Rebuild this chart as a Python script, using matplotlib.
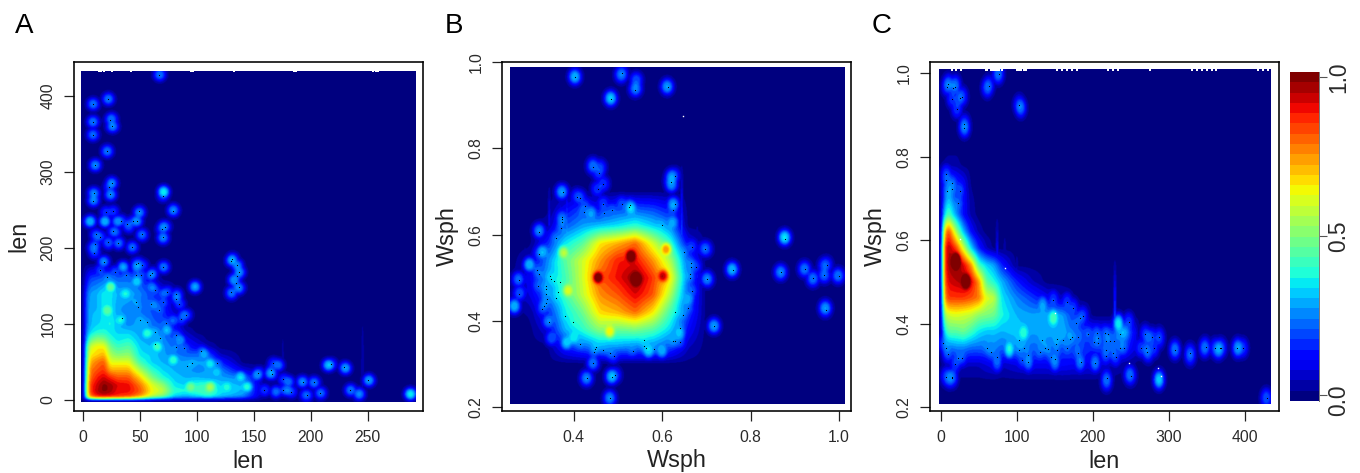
import numpy as np
import matplotlib
matplotlib.use("Agg")
import matplotlib.pyplot as plt
from matplotlib.transforms import ScaledTranslation

plt.rcParams["font.family"] = ["Liberation Sans", "DejaVu Sans"]

W, H = 1360, 473

# ---- panel A (len vs len)
a_xknots = [0, 3, 6, 12, 18, 24, 30, 40, 50, 60, 70, 80, 90, 100, 110, 120, 140, 160]
a_yknots = [0, 2, 5, 12, 20, 30, 40, 50, 60, 70, 80, 90, 100, 120, 140, 160, 180]
a_levels = [
    [.04, .06, .08, .1, .1, .1, .1, .1, .1, .08, .06, .05, .04, .04, .04, .03, .02, 0],
    [.06, .3, .55, .62, .62, .62, .62, .6, .5, .35, .28, .2, .18, .2, .2, .18, .14, 0],
    [.08, .5, .8, .9, .92, .9, .88, .85, .75, .6, .5, .33, .3, .34, .4, .33, .26, 0],
    [.08, .55, .85, .95, 1.0, .97, .9, .9, .82, .65, .58, .4, .38, .42, .45, .35, .3, 0],
    [.08, .55, .85, .93, 1.0, .97, .92, .9, .78, .62, .52, .35, .33, .4, .42, .33, .3, 0],
    [.08, .5, .8, .88, .93, .87, .82, .82, .68, .5, .38, .32, .3, .3, .28, .28, .25, 0],
    [.08, .48, .78, .82, .86, .72, .72, .72, .55, .4, .33, .3, .28, .25, .28, .25, .08, 0],
    [.08, .45, .72, .78, .82, .62, .62, .62, .42, .33, .3, .28, .28, .28, .28, .15, 0, 0],
    [.07, .42, .65, .68, .72, .55, .5, .52, .35, .33, .28, .25, .22, .22, .2, .05, 0, 0],
    [.07, .4, .6, .65, .65, .48, .42, .45, .33, .3, .28, .22, .15, .1, .05, 0, 0, 0],
    [.06, .3, .45, .52, .5, .4, .35, .38, .3, .28, .25, .2, .1, .05, 0, 0, 0, 0],
    [.06, .25, .33, .38, .38, .35, .33, .32, .28, .3, .22, .15, .05, 0, 0, 0, 0, 0],
    [.06, .22, .3, .33, .35, .38, .3, .25, .3, .22, .2, .12, 0, 0, 0, 0, 0, 0],
    [.06, .22, .3, .3, .35, .35, .28, .25, .22, .2, .15, .05, 0, 0, 0, 0, 0, 0],
    [.05, .2, .28, .3, .36, .35, .3, .3, .25, .18, .12, .03, 0, 0, 0, 0, 0, 0],
    [.02, .1, .18, .2, .22, .25, .22, .22, .18, .08, 0, 0, 0, 0, 0, 0, 0, 0],
    [0, 0, 0, 0, 0, 0, 0, 0, 0, 0, 0, 0, 0, 0, 0, 0, 0, 0],
]
a_blob_x = [8.5, 22, 8.5, 25, 26, 8.5, 21, 10.5, 67, 25, 24, 9, 9, 70.5, 79, 6, 19, 30, 40, 49, 47, 51.5,
            28, 12, 22, 31, 43, 9, 70.5, 70, 18, 70.5, 130.5, 135, 137, 132, 136, 130, 98,
            171, 215, 230, 250.5, 234.5, 242, 287, 192, 202, 195, 208, 180, 169, 179, 152.5, 164,
            24, 35, 47, 47, 37, 21, 32.5, 60, 60, 70.5, 82, 63, 88, 79, 56, 73.5, 85, 65, 79, 106, 111.5, 117,
            138, 144, 111.5, 94, 126]
a_blob_y = [389.5, 396, 366, 370, 360, 349, 327, 309, 428, 285, 270, 272, 263, 274, 250, 235, 235, 235, 228, 246, 235, 217,
            221, 215, 206, 206, 201, 200, 228, 213, 182, 175, 184, 177, 168, 158, 147, 140, 149,
            46, 46, 42, 26, 13, 8, 8, 24, 23, 6.5, 9, 24, 11, 13, 33, 35,
            149, 175, 175, 156, 140, 118, 105, 149, 165, 140, 136, 125, 112, 105, 88, 92, 79, 70, 53, 61, 48, 37,
            31, 17.5, 17.5, 17.5, 17.5]
a_blob_v = [.2, .2, .2, .2, .22, .18, .2, .22, .2, .22, .22, .22, .22, .35, .22, .3, .3, .25, .18, .22, .22, .18,
            .2, .18, .16, .18, .18, .22, .22, .22, .22, .2, .25, .22, .22, .25, .22, .2, .28,
            .22, .3, .25, .25, .2, .25, .35, .22, .2, .18, .18, .22, .22, .22, .25, .25,
            .42, .28, .25, .3, .3, .38, .3, .22, .2, .2, .2, .2, .2, .2, .33, .28, .25, .35, .35, .25, .3, .25,
            .3, .35, .45, .4, .28]
a_streak_x = [245, 175]
a_streak_lo = [0, 20]
a_streak_hi = [125, 110]
a_streak_v = [.06, .04]
a_dots_x = [9, 22, 8.5, 24, 25, 8.5, 21, 10.5, 67, 25, 23, 24, 10, 9, 70, 79, 20, 26, 49.5, 47, 44, 33, 39, 26, 51.5,
            69, 72, 70, 11, 15, 10.5, 22, 31, 43, 10, 18, 15, 21, 28, 38, 46.5, 48.5, 52, 46.5, 51, 59, 61, 70.5,
            131, 130, 135, 137, 135, 134, 137, 130, 63, 74, 82, 82, 84.5, 70.5, 46.5, 60, 48.5, 67, 90.5, 86, 34.5,
            50, 56.5, 72.5, 63, 82, 67.5, 63, 82, 89, 104, 95.5, 91.5, 118, 154, 167, 165, 166, 176, 193, 203,
            217.5, 229.5, 250.5, 234.5, 159, 176, 182.5, 196.5, 208.5]
a_dots_y = [389, 396, 366, 369, 360, 349, 328, 309, 428, 286, 280, 271, 272, 262, 269, 249, 247, 248, 248, 236, 235, 236, 232, 222, 218,
            225, 228, 215, 218, 215, 205, 208, 207, 201, 194, 182, 171, 162, 169, 164, 179, 180, 177, 165, 165, 164, 167, 175,
            186, 183, 177, 169, 163, 153.5, 148, 142.5, 145, 142.5, 139.5, 132.5, 126, 128.5, 128.5, 126, 122, 119, 112, 106, 107.5,
            105, 102, 101, 90, 85.5, 81, 73, 70, 69, 65, 48, 45, 48, 36, 48, 40, 34, 27, 24, 23,
            47, 43, 26, 13, 13, 13, 11, 6.5, 9.5]
a_gaps = [14, 16, 18, 25, 42, 95, 97, 132.5, 185, 187, 255, 257, 259]

# ---- panel B (Wsph vs Wsph)
b_xknots = [.26, .30, .34, .38, .42, .46, .50, .54, .58, .62, .66, .70, .74]
b_yknots = [.26, .30, .34, .38, .42, .46, .50, .54, .58, .62, .66, .70, .74, .78]
b_levels = [
    [0, 0, 0, 0, 0, 0, 0, 0, 0, 0, 0, 0, 0],
    [0, 0, 0, 0, 0, 0, 0, 0, 0, 0, 0, 0, 0],
    [0, 0, 0, .15, .22, .28, .28, .25, .25, .2, .05, 0, 0],
    [0, 0, .08, .3, .4, .52, .48, .5, .45, .33, .12, 0, 0],
    [0, .02, .15, .35, .48, .68, .72, .8, .66, .42, .18, 0, 0],
    [0, .08, .22, .42, .58, .76, .82, .92, .82, .55, .2, 0, 0],
    [0, .1, .28, .42, .6, .82, .9, 1.0, .85, .65, .22, 0, 0],
    [0, .05, .25, .45, .6, .75, .88, .9, .75, .55, .2, 0, 0],
    [0, 0, .15, .35, .45, .66, .72, .8, .6, .4, .1, 0, 0],
    [0, 0, .03, .2, .28, .32, .35, .4, .33, .25, 0, 0, 0],
    [0, 0, 0, .1, .18, .1, .18, .2, .18, .12, 0, 0, 0],
    [0, 0, 0, 0, 0, 0, 0, 0, 0, 0, 0, 0, 0],
    [0, 0, 0, 0, 0, 0, 0, 0, 0, 0, 0, 0, 0],
    [0, 0, 0, 0, 0, 0, 0, 0, 0, 0, 0, 0, 0],
]
b_blob_x = [.403, .508, .542, .541, .484, .612, .444, .46, .622, .622, .373, .322, .70, .275, .279, .266, .343, .384,
            .429, .444, .486, .482, .703, .718, .759, .878, .869, .923, .942, .968, .968, .999, .97, .625, .625,
            .542, .455, .53, .377, .387, .482, .61, .603, .30, .33, .35, .40, .44, .53, .57, .60, .64, .66]
b_blob_y = [.965, .969, .957, .938, .915, .942, .76, .755, .733, .715, .698, .609, .566, .496, .465, .434, .399, .349,
            .267, .302, .271, .221, .496, .388, .519, .593, .512, .519, .496, .527, .505, .504, .43, .67, .628,
            .496, .50, .55, .558, .47, .374, .566, .504, .53, .56, .36, .36, .65, .66, .33, .33, .37, .45]
b_blob_v = [.28, .22, .2, .22, .3, .25, .2, .18, .25, .25, .25, .22, .18, .18, .15, .3, .2, .3,
            .22, .2, .28, .22, .22, .25, .28, .33, .22, .2, .2, .18, .18, .2, .25, .25, .25,
            1.0, .9, .9, .5, .52, .55, .66, .78, .3, .28, .2, .3, .25, .3, .3, .28, .28, .25]
b_streak_x = [.545, .385, .37, .645, .68, .29, .345]
b_streak_lo = [.50, .60, .55, .60, .50, .50, .62]
b_streak_hi = [.685, .72, .72, .77, .63, .58, .72]
b_streak_v = [.72, .3, .25, .2, .15, .1, .12]
b_dots_x = [.403, .509, .539, .484, .612, .444, .457, .467, .454, .628, .619, .375, .408, .415, .426, .422, .467, .469, .486, .509,
            .524, .528, .628, .625, .373, .374, .374, .371, .322, .359, .599, .322, .667, .65, .696, .878, .316, .322, .345, .348,
            .356, .368, .275, .32, .337, .337, .365, .337, .277, .359, .34, .336, .333, .329, .379, .343, .399, .413, .451, .448,
            .446, .466, .481, .49, .533, .558, .558, .564, .582, .625, .629, .641, .641, .629, .648, .659, .668, .662, .662, .664,
            .664, .676, .701, .718, .759, .869, .923, .942, .967, .972, .999, .97, .444, .43, .487, .494, .482]
b_dots_y = [.965, .974, .936, .915, .942, .756, .742, .717, .705, .736, .723, .699, .688, .685, .667, .653, .672, .651, .657, .672,
            .665, .669, .67, .657, .641, .636, .629, .616, .607, .593, .623, .556, .572, .56, .567, .591, .519, .509, .505, .498,
            .492, .49, .496, .481, .482, .473, .467, .463, .463, .453, .451, .442, .435, .428, .412, .398, .398, .346, .34, .335,
            .328, .333, .326, .319, .331, .357, .341, .337, .335, .353, .353, .351, .384, .421, .415, .43, .469, .509, .5, .535,
            .526, .526, .498, .388, .518, .513, .521, .5, .507, .53, .505, .426, .302, .267, .27, .274, .221]
b_white_x = [.646]
b_white_y = [.874]

# ---- panel C (Wsph vs len)
c_xknots = [0, 5, 10, 20, 30, 40, 50, 60, 70, 80, 100, 120, 140, 160, 180, 200, 220, 240, 260]
c_yknots = [.26, .30, .34, .38, .42, .46, .50, .54, .58, .62, .66, .70, .74, .78, .82]
c_levels = [
    [0, 0, 0, 0, 0, 0, 0, 0, 0, 0, 0, 0, 0, 0, 0, 0, 0, 0, 0],
    [0, .03, .05, .05, .05, .05, .05, .08, .1, .05, .08, .1, .1, .12, .1, .1, .05, .02, 0],
    [.05, .18, .22, .25, .25, .22, .22, .22, .25, .22, .25, .22, .22, .18, .2, .14, .18, .18, .05],
    [.08, .35, .45, .45, .48, .42, .35, .32, .32, .3, .33, .28, .3, .3, .2, .15, .12, .3, .05],
    [.1, .55, .6, .62, .6, .58, .52, .5, .48, .38, .3, .28, .3, .28, .12, 0, 0, 0, 0],
    [.12, .75, .85, .85, .85, .82, .78, .62, .58, .35, .25, .18, .1, .05, 0, 0, 0, 0, 0],
    [.12, .82, .92, .95, .97, .92, .75, .45, .38, .3, .15, .05, 0, 0, 0, 0, 0, 0, 0],
    [.12, .85, .97, 1.0, .92, .75, .42, .33, .28, .15, 0, 0, 0, 0, 0, 0, 0, 0, 0],
    [.12, .85, .97, .85, .6, .33, .15, .05, 0, 0, 0, 0, 0, 0, 0, 0, 0, 0, 0],
    [.1, .7, .85, .55, .3, .12, .03, 0, 0, 0, 0, 0, 0, 0, 0, 0, 0, 0, 0],
    [.08, .35, .45, .28, .12, .03, 0, 0, 0, 0, 0, 0, 0, 0, 0, 0, 0, 0, 0],
    [.05, .22, .32, .18, .12, .02, 0, 0, 0, 0, 0, 0, 0, 0, 0, 0, 0, 0, 0],
    [.03, .12, .22, .15, .1, 0, 0, 0, 0, 0, 0, 0, 0, 0, 0, 0, 0, 0, 0],
    [0, .02, .03, .03, 0, 0, 0, 0, 0, 0, 0, 0, 0, 0, 0, 0, 0, 0, 0],
    [0, 0, 0, 0, 0, 0, 0, 0, 0, 0, 0, 0, 0, 0, 0, 0, 0, 0, 0],
]
c_blob_x = [10, 19, 23, 61, 75, 105, 31, 11, 218, 248, 287, 428, 233.5, 273, 273, 308, 328, 347, 365, 391, 242,
            90, 148, 183, 203, 115, 74, 150, 134, 109, 287, 20, 33]
c_blob_y = [.972, .972, .936, .964, .996, .916, .868, .269, .261, .277, .265, .221, .40, .365, .329, .337, .322, .341, .337, .341, .377,
            .337, .413, .305, .305, .305, .305, .305, .445, .377, .36, .55, .50]
c_blob_v = [.18, .18, .15, .2, .2, .22, .2, .22, .2, .2, .32, .15, .35, .2, .18, .2, .18, .2, .25, .25, .2,
            .35, .38, .2, .2, .2, .2, .22, .25, .33, .12, 1.0, .92]
c_streak_x = [229, 74, 84, 100]
c_streak_lo = [.40, .50, .50, .48]
c_streak_hi = [.56, .66, .62, .57]
c_streak_v = [.22, .2, .1, .12]
c_dots_x = [10, 8, 19, 16, 15, 25, 28, 21, 31, 31, 63, 76, 103, 7, 7, 8, 15, 15, 25, 23, 3.5, 7, 9, 23, 28, 19, 7, 15, 15,
            61, 66, 74, 103, 110, 103, 115, 107, 115, 133, 137, 141, 130, 145, 150, 153, 148, 166, 174, 187, 183, 178,
            153, 161, 151, 172, 170, 181, 166, 180, 184, 194, 205, 207, 201, 207, 216, 220, 217, 222, 228, 217, 217, 226, 230, 203,
            235, 236, 241, 247, 218, 250, 269, 278, 287, 263, 270, 280, 271, 308, 328, 348, 361, 367, 369, 390, 397, 428.5]
c_dots_y = [.974, .967, .968, .964, .938, .942, .943, .914, .878, .868, .97, .998, .923, .758, .744, .718, .736, .723, .718, .688, .353, .341, .327, .317, .318, .302, .273, .273, .269,
            .341, .331, .319, .36, .342, .336, .325, .312, .309, .36, .341, .338, .331, .321, .315, .336, .457, .451, .437, .418, .413, .401,
            .362, .36, .352, .367, .364, .369, .342, .329, .309, .374, .377, .365, .355, .353, .377, .374, .358, .359, .359, .337, .322, .329, .319, .305,
            .374, .342, .342, .403, .269, .275, .374, .367, .367, .341, .341, .341, .333, .337, .329, .343, .341, .341, .341, .341, .341, .221]
c_white_x = [25.4, 84, 150, 247, 285, 290]
c_white_y = [.604, .533, .425, .305, .293, .275]
c_gaps = [14.5, 20, 26.5, 59, 61, 66, 69, 71, 74, 77, 80, 100, 103, 106, 109, 112, 153, 159.5, 166, 173, 179,
          220, 227, 233.5, 275, 330, 336.5, 343, 349.5, 356, 361.5, 416.5, 423, 429.5]

cbar_ticks = [0.0, 0.5, 1.0]
n_bands = 32
vmin, vmax = -0.019, 1.015
cmap = plt.get_cmap("jet", n_bands)
dot_level = 0.17


def density(xlim, ylim, xknots, yknots, levels, bx, by, bv, sx, sy, sk=None, p=3.0, smooth=1.5):
    # picture grid, 2 cells per screen pixel
    xs = np.linspace(xlim[0], xlim[1], 670)
    ys = np.linspace(ylim[0], ylim[1], 670)
    lev = np.array(levels, dtype=float)
    rows = np.array([np.interp(xs, xknots, r, left=0, right=0) for r in lev])
    core = np.array([np.interp(ys, yknots, rows[:, j], left=0, right=0) for j in range(len(xs))]).T
    # light blur so the reading grid does not show
    n = int(smooth * 8)
    kern = np.exp(-0.5 * (np.arange(-n, n + 1) / (smooth * 2)) ** 2)
    kern /= kern.sum()
    core = np.apply_along_axis(lambda v: np.convolve(v, kern, mode="same"), 0, core)
    core = np.apply_along_axis(lambda v: np.convolve(v, kern, mode="same"), 1, core)
    total = core ** p
    X, Y = np.meshgrid(xs, ys)
    for x0, y0, v in zip(bx, by, bv):
        # flat-topped bump, the key of the original smoothing looks like this
        g = np.exp(-0.5 * (((X - x0) / sx) ** 2 + ((Y - y0) / sy) ** 2) ** 1.4)
        total = total + (v * g) ** p
    field = total ** (1 / p)
    if sk is not None:
        px = (xlim[1] - xlim[0]) / 335
        for x0, lo, hi, v in zip(*sk):
            ramp = np.clip((hi - Y) / (hi - lo), 0, 1) * (Y >= lo)
            field = np.maximum(field, v * ramp * np.exp(-0.5 * ((X - x0) / (1.0 * px)) ** 2))
    return field


def panel(rect, letter, letter_x, ext, lims, xticks, yticks, xlab, ylab, field, dx, dy, gaps=None, white=None, xfmt="%g", yfmt="%g"):
    l, r, t, b = rect
    ax = fig.add_axes([l / W, 1 - b / H, (r - l) / W, (b - t) / H])
    ax.imshow(field, origin="lower", extent=ext, aspect="auto", cmap=cmap, vmin=vmin, vmax=vmax,
              interpolation="bilinear", zorder=1)
    ax.plot(dx, dy, linestyle="none", marker="s", ms=0.75, mew=0, color="black", zorder=3)
    if white is not None:
        ax.plot(white[0], white[1], linestyle="none", marker="s", ms=1.0, mew=0, color="white", zorder=3)
    if gaps is not None:
        ax.plot(gaps, [ext[3]] * len(gaps), linestyle="none", marker="s", ms=1.6, mew=0, color="white", zorder=3)
    ax.set_xlim(lims[0], lims[1])
    ax.set_ylim(lims[2], lims[3])
    ax.set_xticks(xticks, [xfmt % v for v in xticks])
    ax.set_yticks(yticks, [yfmt % v for v in yticks])
    ax.tick_params(axis="both", length=7.2, width=0.9, color="#222222", labelcolor="#2a2a2a", labelsize=11.3)
    ax.tick_params(axis="x", pad=6.5)
    ax.tick_params(axis="y", pad=6)
    for lab in ax.get_yticklabels():
        lab.set_rotation(90)
        lab.set_va("center")
    for s in ax.spines.values():
        s.set_linewidth(1.15)
    ax.set_xlabel(xlab, fontsize=16.8, color="#222222", va="center")
    ax.set_ylabel(ylab, fontsize=16.8, color="#222222", va="center")
    ax.xaxis.set_label_coords(0.5, -(461 - b) / (b - t))
    ax.yaxis.set_label_coords(-55 / (r - l), 0.5)
    fig.text(letter_x / W, 1 - 26 / H, letter, fontsize=20, color="black", ha="center", va="center")
    return ax


fig = plt.figure(figsize=(W / 100, H / 100), dpi=100)

ext_a = [-1.8, 291.6, -2.2, 432.5]
ext_b = [0.2566, 1.0141, 0.2077, 0.9868]
ext_c = [-2.2, 434.1, 0.2072, 1.0082]

field_a = density(ext_a[:2], ext_a[2:], a_xknots, a_yknots, a_levels,
                  a_blob_x + a_dots_x, a_blob_y + a_dots_y, a_blob_v + [dot_level] * len(a_dots_x), 4.2, 6.5,
                  (a_streak_x, a_streak_lo, a_streak_hi, a_streak_v))
field_b = density(ext_b[:2], ext_b[2:], b_xknots, b_yknots, b_levels,
                  b_blob_x + b_dots_x, b_blob_y + b_dots_y, b_blob_v + [dot_level] * len(b_dots_x), 0.0115, 0.0145,
                  (b_streak_x, b_streak_lo, b_streak_hi, b_streak_v))
field_c = density(ext_c[:2], ext_c[2:], c_xknots, c_yknots, c_levels,
                  c_blob_x + c_dots_x, c_blob_y + c_dots_y, c_blob_v + [dot_level] * len(c_dots_x), 5.8, 0.018,
                  (c_streak_x, c_streak_lo, c_streak_hi, c_streak_v))

panel((73.7, 422.7, 62, 411), "A", 24, ext_a, (-8.2, 298.3, -14.5, 444.7),
      [0, 50, 100, 150, 200, 250], [0, 100, 200, 300, 400], "len", "len",
      field_a, a_dots_x, a_dots_y, gaps=a_gaps)
panel((502, 851, 62, 411), "B", 454, ext_b, (0.2375, 1.0271, 0.1915, 0.9944),
      [0.4, 0.6, 0.8, 1.0], [0.2, 0.4, 0.6, 0.8, 1.0], "Wsph", "Wsph",
      field_b, b_dots_x, b_dots_y, white=(b_white_x, b_white_y), xfmt="%.1f", yfmt="%.1f")
panel((930, 1279, 62, 411), "C", 882, ext_c, (-14.1, 444.6, 0.1904, 1.0273),
      [0, 100, 200, 300, 400], [0.2, 0.4, 0.6, 0.8, 1.0], "len", "Wsph",
      field_c, c_dots_x, c_dots_y, gaps=c_gaps, white=(c_white_x, c_white_y), yfmt="%.1f")

# colour key
cax = fig.add_axes([1290 / W, 1 - 401 / H, 29 / W, 329 / H])
edges = np.linspace(vmin, vmax, n_bands + 1)
cax.pcolormesh([0, 1], edges, ((edges[:-1] + edges[1:]) / 2).reshape(-1, 1), cmap=cmap, vmin=vmin, vmax=vmax)
cax.set_xticks([])
cax.yaxis.tick_right()
cax.set_yticks(cbar_ticks, ["%.1f" % v for v in cbar_ticks])
cax.tick_params(axis="y", length=5.6, width=0.8, color="#555555", labelcolor="#2a2a2a", labelsize=16.4, pad=0.3)
for lab in cax.get_yticklabels():
    lab.set_rotation(90)
    lab.set_va("center")
zero_lab = cax.get_yticklabels()[0]
zero_lab.set_transform(zero_lab.get_transform() + ScaledTranslation(0, -5 / 100, fig.dpi_scale_trans))
for name, s in cax.spines.items():
    s.set_visible(name == "right")
    s.set_color("#777777")
    s.set_linewidth(0.7)

fig.savefig("out.png", dpi=100)
